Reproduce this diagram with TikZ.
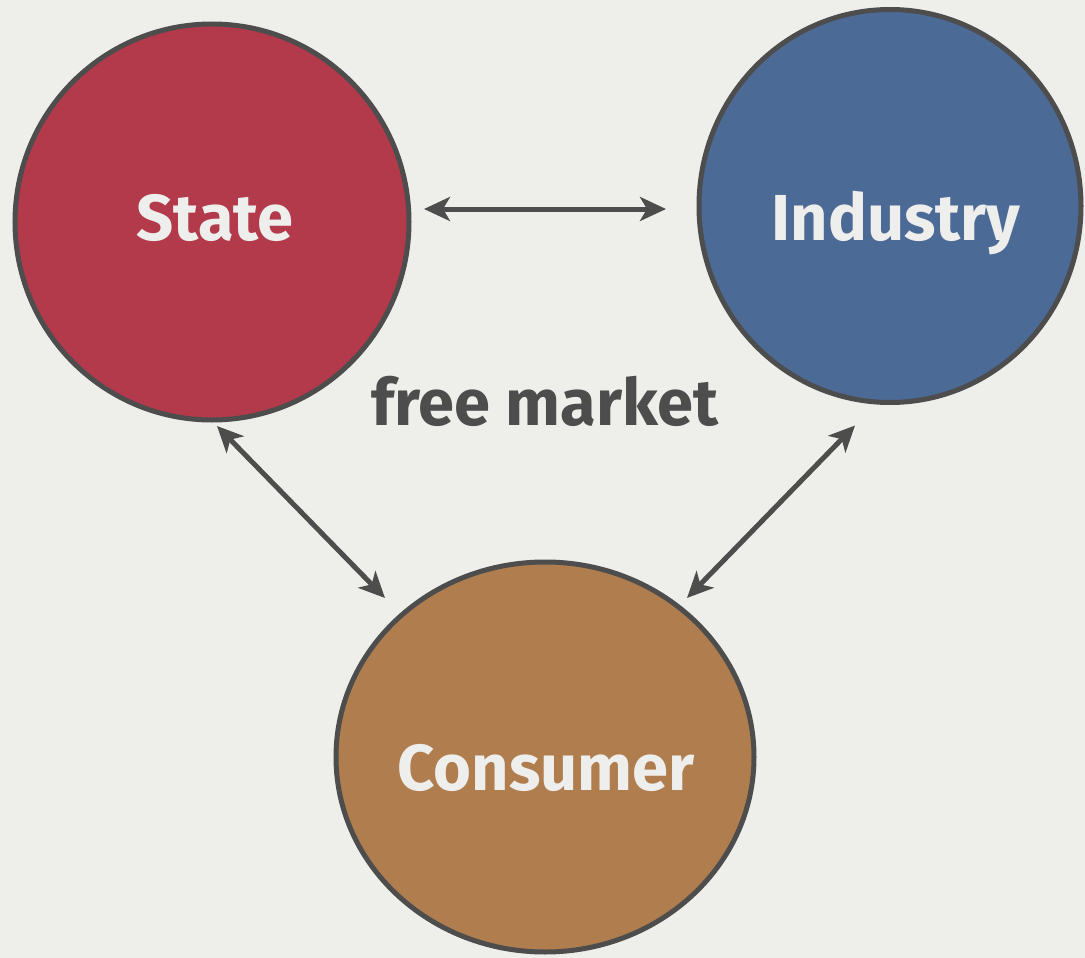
\documentclass[tikz,border=0pt]{standalone}
\usepackage{fontspec}
\newfontfamily\lblfont{Fira Sans}
\usetikzlibrary{shapes.geometric,arrows.meta}
\definecolor{bg}{RGB}{238,238,234}
\definecolor{edge}{RGB}{77,77,77}
\definecolor{statefill}{RGB}{178,58,75}
\definecolor{indfill}{RGB}{76,106,150}
\definecolor{consfill}{RGB}{176,125,78}
\definecolor{lbltext}{RGB}{238,238,236}
\tikzset{
  bubble/.style={ellipse, draw=edge, line width=5pt, inner sep=0pt, outer sep=0pt},
  lbl/.style={anchor=base, text=lbltext, font=\lblfont\bfseries\fontsize{65}{78}\selectfont},
  midlbl/.style={anchor=base, text=edge, font=\lblfont\bfseries\fontsize{65}{78}\selectfont},
  link/.style={draw=edge, line width=5pt, {Stealth[length=26pt,width=24pt,inset=7pt]}-{Stealth[length=26pt,width=24pt,inset=7pt]}}
}
\begin{document}
\begin{tikzpicture}[x=1pt,y=-1pt]
\fill[bg] (0,0) rectangle (1085,958);
\useasboundingbox (0,0) rectangle (1085,958);
\node[bubble, fill=statefill, minimum width=394pt, minimum height=396pt] (state) at (212,222) {};
\node[bubble, fill=indfill, minimum width=382pt, minimum height=393pt] (industry) at (890,206) {};
\node[bubble, fill=consfill, minimum width=418pt, minimum height=390pt] (consumer) at (545,757) {};
\node[lbl] (stateL) at (215,240) {State};
\node[lbl] (industryL) at (896,240) {Industry};
\node[lbl] (consumerL) at (546,790) {Consumer};
\node[midlbl] (market) at (545,425) {free market};
\draw[link] ([xshift=15pt,yshift=13pt]state.east) -- ([xshift=-33pt,yshift=-3pt]industry.west);
\draw[link] ([xshift=5pt,yshift=-6pt]state.south) -- ([xshift=-160pt,yshift=-36pt]consumer.north);
\draw[link] ([xshift=-35pt,yshift=-23pt]industry.south) -- ([xshift=142pt,yshift=-36pt]consumer.north);
\end{tikzpicture}
\end{document}
